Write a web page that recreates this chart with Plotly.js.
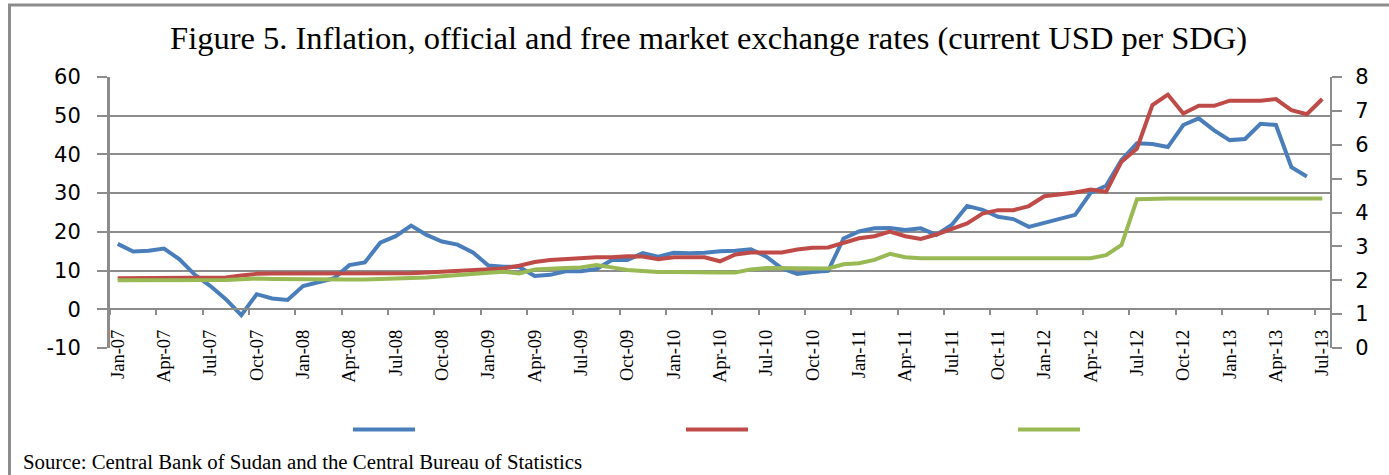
<!DOCTYPE html>
<html>
<head>
<meta charset="utf-8">
<script src="https://cdn.plot.ly/plotly-3.0.1.min.js"></script>
<style>html,body{margin:0;padding:0;background:#fff;}#chart{width:1389px;height:475px;}</style>
</head>
<body>
<div id="chart"></div>
<script>
var months = ["Jan-07","Feb-07","Mar-07","Apr-07","May-07","Jun-07","Jul-07","Aug-07","Sep-07","Oct-07","Nov-07","Dec-07",
"Jan-08","Feb-08","Mar-08","Apr-08","May-08","Jun-08","Jul-08","Aug-08","Sep-08","Oct-08","Nov-08","Dec-08",
"Jan-09","Feb-09","Mar-09","Apr-09","May-09","Jun-09","Jul-09","Aug-09","Sep-09","Oct-09","Nov-09","Dec-09",
"Jan-10","Feb-10","Mar-10","Apr-10","May-10","Jun-10","Jul-10","Aug-10","Sep-10","Oct-10","Nov-10","Dec-10",
"Jan-11","Feb-11","Mar-11","Apr-11","May-11","Jun-11","Jul-11","Aug-11","Sep-11","Oct-11","Nov-11","Dec-11",
"Jan-12","Feb-12","Mar-12","Apr-12","May-12","Jun-12","Jul-12","Aug-12","Sep-12","Oct-12","Nov-12","Dec-12",
"Jan-13","Feb-13","Mar-13","Apr-13","May-13","Jun-13","Jul-13"];

// Inflation (%), left axis
var inflation = [16.9,14.9,15.1,15.7,12.9,8.9,6.0,2.6,-1.5,3.9,2.8,2.4,
6.0,7.1,8.0,11.4,12.1,17.2,18.9,21.6,19.2,17.5,16.7,14.7,
11.3,11.0,10.9,8.6,8.9,9.8,9.8,10.4,12.7,12.7,14.5,13.6,
14.6,14.5,14.6,15.0,15.1,15.5,13.6,10.6,9.1,9.6,9.9,18.3,
20.1,20.9,21.0,20.5,20.9,19.2,21.8,26.7,25.7,23.9,23.3,21.3,
22.4,23.5,24.4,30.1,31.9,38.6,42.9,42.7,41.9,47.6,49.3,46.2,
43.7,44.0,47.9,47.6,36.7,34.3,null];

// Free market exchange rate, right axis
var freeMarket = [2.06,2.06,2.06,2.06,2.06,2.06,2.06,2.08,2.14,2.19,
2.20,2.20,2.20,2.20,2.20,2.21,2.21,2.21,2.21,2.21,
2.23,2.25,2.28,2.30,2.32,2.35,2.43,2.54,2.60,2.63,
2.66,2.68,2.68,2.71,2.70,2.62,2.68,2.68,2.68,2.56,
2.76,2.82,2.81,2.82,2.91,2.96,2.97,3.11,3.24,3.30,
3.44,3.30,3.22,3.35,3.50,3.68,3.97,4.07,4.07,4.19,
4.48,4.53,4.59,4.68,4.61,5.50,5.89,7.17,7.48,6.92,
7.15,7.15,7.30,7.30,7.30,7.35,7.02,6.90,7.35];

// Official exchange rate, right axis
var official = [2.00,2.00,2.00,2.00,2.00,2.00,2.00,2.01,2.03,2.05,
2.04,2.03,2.03,2.02,2.01,2.02,2.02,2.03,2.04,2.05,
2.08,2.12,2.16,2.18,2.22,2.25,2.20,2.32,2.35,2.36,
2.38,2.45,2.38,2.30,2.27,2.24,2.24,2.23,2.23,2.23,
2.23,2.32,2.36,2.36,2.35,2.35,2.35,2.47,2.50,2.60,
2.78,2.68,2.65,2.65,2.65,2.65,2.65,2.65,2.65,2.65,
2.65,2.65,2.65,2.65,2.74,3.04,4.39,4.41,4.41,4.41,
4.41,4.41,4.41,4.41,4.41,4.41,4.41,4.41,4.41];

// Left axis tick labels (as printed, with a plain hyphen)
var leftTickVals = [-10, 0, 10, 20, 30, 40, 50, 60];
var leftTickText = ["-10", "0", "10", "20", "30", "40", "50", "60"];

var idx = months.map(function(m, i){ return i; });
var tickIdx = idx.filter(function(i){ return i % 3 === 0; });
var tickText = tickIdx.map(function(i){ return months[i]; });
var boundaries = tickIdx.map(function(i){ return i - 0.5; });

var grey = '#8c8c8c';
var traces = [
  {x: idx, y: inflation, text: months, name: '', legend: 'legend', type: 'scatter', mode: 'lines',
   line: {color: '#4a7ebb', width: 4}, hovertemplate: '%{text}: %{y}<extra>Inflation</extra>'},
  {x: idx, y: freeMarket, text: months, name: '', legend: 'legend2', type: 'scatter', mode: 'lines', yaxis: 'y2',
   line: {color: '#be4b48', width: 4}, hovertemplate: '%{text}: %{y}<extra>Free market rate</extra>'},
  {x: idx, y: official, text: months, name: '', legend: 'legend3', type: 'scatter', mode: 'lines', yaxis: 'y2',
   line: {color: '#98b954', width: 4}, hovertemplate: '%{text}: %{y}<extra>Official rate</extra>'}
];

function legendAt(px) {
  return {x: (px - 110) / 1220, xanchor: 'left', y: (348 - 430) / 271, yanchor: 'middle',
          itemwidth: 62, bgcolor: 'rgba(0,0,0,0)', borderwidth: 0,
          font: {family: 'Liberation Serif', size: 14}};
}

var layout = {
  width: 1389, height: 475,
  margin: {l: 110, r: 59, t: 77, b: 127},
  paper_bgcolor: '#fff', plot_bgcolor: '#fff',
  showlegend: true,
  title: {text: 'Figure 5. Inflation, official and free market exchange rates (current USD per SDG)',
          font: {family: 'Liberation Serif', size: 32.5, color: '#000'},
          xref: 'paper', x: 0.4906, xanchor: 'center', yref: 'container', y: 0.921, yanchor: 'middle'},
  xaxis: {
    range: [-0.5, 78.5], anchor: 'free', position: 10/70,
    tickmode: 'array', tickvals: tickIdx, ticktext: tickText, ticks: '',
    tickangle: -90, tickfont: {family: 'Liberation Serif', size: 18.5, color: '#000'},
    ticklabelstandoff: 12,
    minor: {tickmode: 'array', tickvals: boundaries, ticks: 'outside', ticklen: 5, tickwidth: 1.5, tickcolor: grey, showgrid: false},
    showline: true, linecolor: grey, linewidth: 2, showgrid: false, zeroline: false, fixedrange: true
  },
  yaxis: {
    range: [-10, 60], tickmode: 'array', tickvals: leftTickVals, ticktext: leftTickText,
    showgrid: true, gridcolor: grey, gridwidth: 1.5, zeroline: false,
    showline: true, linecolor: grey, linewidth: 3,
    ticks: 'outside', ticklen: 10, tickwidth: 1.5, tickcolor: grey,
    tickfont: {family: 'DejaVu Sans', size: 21, color: '#000'}, ticklabelstandoff: 12
  },
  yaxis2: {
    range: [0, 8], dtick: 1, tick0: 0, overlaying: 'y', side: 'right',
    showgrid: false, zeroline: false, showline: true, linecolor: grey, linewidth: 2,
    ticks: 'outside', ticklen: 10, tickwidth: 1.5, tickcolor: grey,
    tickfont: {family: 'DejaVu Sans', size: 21, color: '#000'}, ticklabelstandoff: 9
  },
  legend: legendAt(348),
  legend2: legendAt(681),
  legend3: legendAt(1013),
  annotations: [{text: 'Source: Central Bank of Sudan and the Central Bureau of Statistics',
    xref: 'paper', yref: 'paper', x: (21 - 110) / 1220, y: (348 - 461) / 271,
    xanchor: 'left', yanchor: 'middle', showarrow: false,
    font: {family: 'Liberation Serif', size: 20.8, color: '#000'}}],
  shapes: [{type: 'rect', xref: 'paper', yref: 'paper',
    x0: (9.5 - 110) / 1220, x1: (1420 - 110) / 1220, y0: (348 - 520) / 271, y1: (348 - 5) / 271,
    line: {color: grey, width: 3}, fillcolor: 'rgba(0,0,0,0)', layer: 'below'}]
};

Plotly.newPlot('chart', traces, layout, {displayModeBar: false});
</script>
</body>
</html>
